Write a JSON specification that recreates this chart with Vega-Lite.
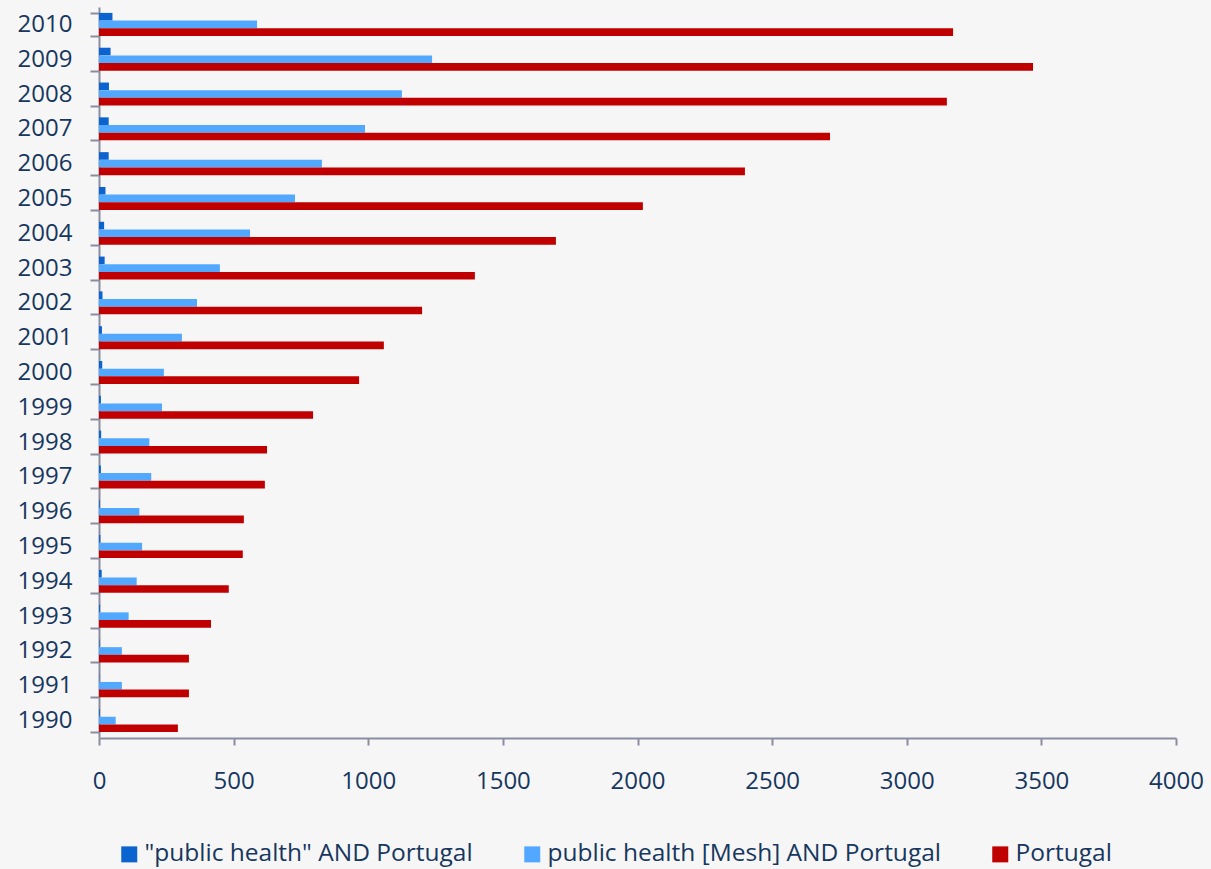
{
  "$schema": "https://vega.github.io/schema/vega-lite/v6.json",
  "autosize": {"type": "none"},
  "width": 1077,
  "height": 731,
  "padding": {"left": 99, "top": 7, "right": 35, "bottom": 131},
  "background": "#f6f6f6",
  "data": {"values": [
    {"year": "2010", "series": "\"public health\" AND Portugal", "value": 50},
    {"year": "2010", "series": "public health [Mesh] AND Portugal", "value": 587},
    {"year": "2010", "series": "Portugal", "value": 3172},
    {"year": "2009", "series": "\"public health\" AND Portugal", "value": 43},
    {"year": "2009", "series": "public health [Mesh] AND Portugal", "value": 1237},
    {"year": "2009", "series": "Portugal", "value": 3469},
    {"year": "2008", "series": "\"public health\" AND Portugal", "value": 37},
    {"year": "2008", "series": "public health [Mesh] AND Portugal", "value": 1125},
    {"year": "2008", "series": "Portugal", "value": 3149},
    {"year": "2007", "series": "\"public health\" AND Portugal", "value": 36},
    {"year": "2007", "series": "public health [Mesh] AND Portugal", "value": 988},
    {"year": "2007", "series": "Portugal", "value": 2715},
    {"year": "2006", "series": "\"public health\" AND Portugal", "value": 36},
    {"year": "2006", "series": "public health [Mesh] AND Portugal", "value": 828},
    {"year": "2006", "series": "Portugal", "value": 2399},
    {"year": "2005", "series": "\"public health\" AND Portugal", "value": 24},
    {"year": "2005", "series": "public health [Mesh] AND Portugal", "value": 728},
    {"year": "2005", "series": "Portugal", "value": 2020},
    {"year": "2004", "series": "\"public health\" AND Portugal", "value": 19},
    {"year": "2004", "series": "public health [Mesh] AND Portugal", "value": 561},
    {"year": "2004", "series": "Portugal", "value": 1697},
    {"year": "2003", "series": "\"public health\" AND Portugal", "value": 21},
    {"year": "2003", "series": "public health [Mesh] AND Portugal", "value": 449},
    {"year": "2003", "series": "Portugal", "value": 1396},
    {"year": "2002", "series": "\"public health\" AND Portugal", "value": 13},
    {"year": "2002", "series": "public health [Mesh] AND Portugal", "value": 364},
    {"year": "2002", "series": "Portugal", "value": 1200},
    {"year": "2001", "series": "\"public health\" AND Portugal", "value": 11},
    {"year": "2001", "series": "public health [Mesh] AND Portugal", "value": 308},
    {"year": "2001", "series": "Portugal", "value": 1058},
    {"year": "2000", "series": "\"public health\" AND Portugal", "value": 12},
    {"year": "2000", "series": "public health [Mesh] AND Portugal", "value": 241},
    {"year": "2000", "series": "Portugal", "value": 966},
    {"year": "1999", "series": "\"public health\" AND Portugal", "value": 7},
    {"year": "1999", "series": "public health [Mesh] AND Portugal", "value": 234},
    {"year": "1999", "series": "Portugal", "value": 795},
    {"year": "1998", "series": "\"public health\" AND Portugal", "value": 8},
    {"year": "1998", "series": "public health [Mesh] AND Portugal", "value": 187},
    {"year": "1998", "series": "Portugal", "value": 624},
    {"year": "1997", "series": "\"public health\" AND Portugal", "value": 7},
    {"year": "1997", "series": "public health [Mesh] AND Portugal", "value": 194},
    {"year": "1997", "series": "Portugal", "value": 616},
    {"year": "1996", "series": "\"public health\" AND Portugal", "value": 3},
    {"year": "1996", "series": "public health [Mesh] AND Portugal", "value": 150},
    {"year": "1996", "series": "Portugal", "value": 538},
    {"year": "1995", "series": "\"public health\" AND Portugal", "value": 5},
    {"year": "1995", "series": "public health [Mesh] AND Portugal", "value": 160},
    {"year": "1995", "series": "Portugal", "value": 534},
    {"year": "1994", "series": "\"public health\" AND Portugal", "value": 10},
    {"year": "1994", "series": "public health [Mesh] AND Portugal", "value": 140},
    {"year": "1994", "series": "Portugal", "value": 482},
    {"year": "1993", "series": "\"public health\" AND Portugal", "value": 4},
    {"year": "1993", "series": "public health [Mesh] AND Portugal", "value": 110},
    {"year": "1993", "series": "Portugal", "value": 416},
    {"year": "1992", "series": "\"public health\" AND Portugal", "value": 2},
    {"year": "1992", "series": "public health [Mesh] AND Portugal", "value": 85},
    {"year": "1992", "series": "Portugal", "value": 334},
    {"year": "1991", "series": "\"public health\" AND Portugal", "value": 1},
    {"year": "1991", "series": "public health [Mesh] AND Portugal", "value": 85},
    {"year": "1991", "series": "Portugal", "value": 334},
    {"year": "1990", "series": "\"public health\" AND Portugal", "value": 3},
    {"year": "1990", "series": "public health [Mesh] AND Portugal", "value": 62},
    {"year": "1990", "series": "Portugal", "value": 293}
  ]},
  "mark": {"type": "bar"},
  "encoding": {
    "y": {
      "field": "year", "type": "ordinal", "sort": "descending",
      "scale": {"paddingInner": 0.34, "paddingOuter": 0.17},
      "axis": {
        "title": null, "tickBand": "extent", "tickSize": 9, "labelPadding": 18,
        "labelFontSize": 24, "labelFont": "Open Sans", "labelColor": "#17375E",
        "domainColor": "#8A8D9F", "domainWidth": 2, "tickColor": "#8A8D9F", "tickWidth": 2
      }
    },
    "yOffset": {
      "field": "series", "type": "nominal",
      "sort": ["\"public health\" AND Portugal", "public health [Mesh] AND Portugal", "Portugal"],
      "scale": {"paddingInner": 0, "paddingOuter": 0}
    },
    "x": {
      "field": "value", "type": "quantitative",
      "scale": {"domain": [0, 4000], "nice": false},
      "axis": {
        "title": null, "values": [0, 500, 1000, 1500, 2000, 2500, 3000, 3500, 4000],
        "format": "d",
        "grid": false, "tickSize": 7, "labelPadding": 24,
        "labelFontSize": 24, "labelFont": "Open Sans", "labelColor": "#17375E",
        "domainColor": "#8A8D9F", "domainWidth": 2, "tickColor": "#8A8D9F", "tickWidth": 2,
        "labelFlush": false
      }
    },
    "color": {
      "field": "series", "type": "nominal",
      "sort": ["\"public health\" AND Portugal", "public health [Mesh] AND Portugal", "Portugal"],
      "scale": {"range": ["#0A63CF", "#52A8FF", "#C00000"]},
      "legend": {
        "title": null, "orient": "none", "direction": "horizontal",
        "legendX": 18, "legendY": 835,
        "symbolType": "square", "symbolSize": 256, "symbolStrokeWidth": 0,
        "labelFontSize": 24.5, "labelFont": "Open Sans", "labelColor": "#17375E",
        "labelOffset": 3, "columnPadding": 47, "labelLimit": 500
      }
    }
  },
  "config": {"view": {"stroke": null}}
}
